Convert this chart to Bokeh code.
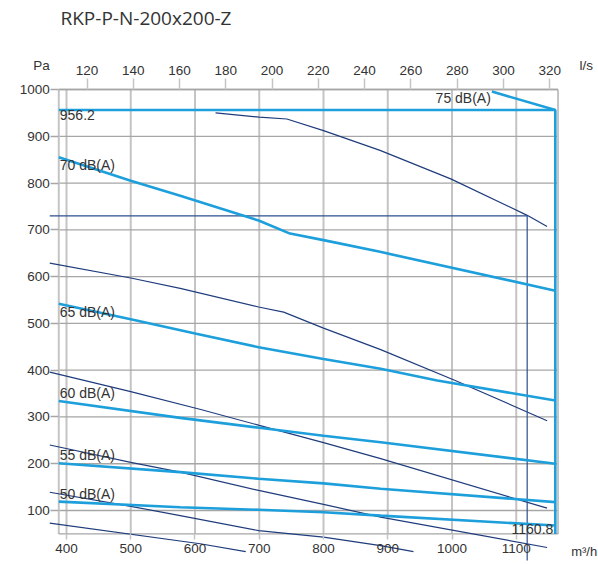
from bokeh.plotting import figure
from bokeh.models import Range1d, LinearAxis, FixedTicker, Label
from bokeh.embed import file_html
from bokeh.resources import INLINE

# ---------------- data ----------------
title_text = "RKP-P-N-200x200-Z"
x_ticks = [400, 500, 600, 700, 800, 900, 1000, 1100]          # m3/h
y_ticks = [100, 200, 300, 400, 500, 600, 700, 800, 900, 1000]  # Pa
ls_ticks = [120, 140, 160, 180, 200, 220, 240, 260, 280, 300, 320]  # l/s

# sound level lines (dB(A))
db75_x = [1062, 1160.8]
db75_y = [995.7, 956.2]
db70_x = [388, 500, 577, 699, 748, 800, 888, 1160.8]
db70_y = [855, 805, 773, 720, 692, 678, 653, 570]
db65_x = [388, 500, 602, 699, 800, 889, 977, 1160.8]
db65_y = [542, 509, 478, 449, 424, 403, 378, 335]
db60_x = [388, 577, 700, 800, 889, 1160.8]
db60_y = [334, 298, 277, 260, 246, 200]
db55_x = [388, 577, 699, 800, 889, 1160.8]
db55_y = [201, 182, 168, 158, 146.5, 118]
db50_x = [388, 577, 699, 800, 889, 1160.8]
db50_y = [119, 107, 101.5, 96.4, 89, 68]
db_labels = ["75 dB(A)", "70 dB(A)", "65 dB(A)", "60 dB(A)", "55 dB(A)", "50 dB(A)"]

# damper / pressure curves
c1_x = [632, 700, 743, 800, 888, 998, 1117, 1148]
c1_y = [950, 941, 937, 912, 870, 809, 731, 707]
c2_x = [374, 500, 577, 699, 738, 800, 889, 1005, 1148]
c2_y = [629, 597, 575, 535, 524, 490, 444, 378, 292]
c3_x = [374, 500, 609, 700, 800, 889, 1148]
c3_y = [396, 354, 316, 282, 245, 211, 105]
c4_x = [374, 500, 577, 699, 800, 889, 1148]
c4_y = [240, 203, 182, 143, 113, 86, 21]
c5_x = [374, 500, 577, 699, 800, 889, 940]
c5_y = [139, 109, 89, 57, 43, 25, 12]
c6_x = [374, 608, 679]
c6_y = [73, 29, 12]

# working point and maximum point
op_flow, op_pressure = 1117, 730
max_flow, max_pressure = 1160.8, 956.2

# ---------------- layout constants ----------------
X0, X1 = 297.3, 1228.0      # whole canvas (m3/h)
Y0, Y1 = -15.4, 1190.3      # whole canvas (Pa)
XF0, XF1 = 388, 1165        # visible chart frame
YF0, YF1 = 50, 1000
LIGHT = "#1d9fdb"
DARK = "#1f3c7c"
GRID_V = "#c4c4c4"
GRID_H = "#a6a6a6"
TXT = "#333333"
FONT = "Liberation Sans"

p = figure(width=598, height=564, x_range=Range1d(X0, X1), y_range=Range1d(Y0, Y1),
           output_backend="svg", toolbar_location=None,
           x_axis_type=None, y_axis_type=None,
           min_border_left=0, min_border_right=0, min_border_top=0, min_border_bottom=0)
p.outline_line_color = None
p.background_fill_color = "white"
p.border_fill_color = "white"
p.extra_x_ranges = {"ls": Range1d(X0 / 3.6, X1 / 3.6)}

# grid
p.segment(x0=x_ticks, y0=[YF0] * len(x_ticks), x1=x_ticks, y1=[YF1] * len(x_ticks),
          line_color=GRID_V, line_width=2)
p.segment(x0=[XF0] * len(y_ticks), y0=y_ticks, x1=[XF1] * len(y_ticks), y1=y_ticks,
          line_color=GRID_H, line_width=1.3)
# frame
p.segment(x0=[XF0, XF1], y0=[YF0, YF0], x1=[XF0, XF1], y1=[YF1, YF1], line_color=GRID_V, line_width=2)
p.segment(x0=[XF0, XF0], y0=[YF0, YF1], x1=[XF1, XF1], y1=[YF0, YF1], line_color=GRID_H, line_width=1.3)

# dark curves
for cx, cy in [(c1_x, c1_y), (c2_x, c2_y), (c3_x, c3_y), (c4_x, c4_y), (c5_x, c5_y), (c6_x, c6_y)]:
    p.line(cx, cy, line_color=DARK, line_width=1.2)
# working point lines
p.line([374, op_flow, op_flow], [op_pressure, op_pressure, -7], line_color="#2d4f8f", line_width=1.2)

# sound lines
for dx, dy in [(db75_x, db75_y), (db70_x, db70_y), (db65_x, db65_y),
               (db60_x, db60_y), (db55_x, db55_y), (db50_x, db50_y)]:
    p.line(dx, dy, line_color=LIGHT, line_width=2.6)
p.line([XF0, max_flow, max_flow], [max_pressure, max_pressure, YF0], line_color=LIGHT, line_width=2.6)

# axes
common = dict(axis_line_color=None, minor_tick_in=0, minor_tick_out=0, major_tick_in=0,
              major_tick_line_color=GRID_V, major_tick_line_width=1.5,
              major_label_text_font=FONT, major_label_text_font_size="13.5px",
              major_label_text_color=TXT)
yaxis = LinearAxis(ticker=FixedTicker(ticks=y_ticks), fixed_location=XF0,
                   major_tick_out=8, major_label_standoff=1, **common)
yaxis.major_tick_line_color = GRID_H
p.add_layout(yaxis, "left")
xaxis = LinearAxis(ticker=FixedTicker(ticks=x_ticks), fixed_location=YF0,
                   major_tick_out=6, major_label_standoff=4, **common)
p.add_layout(xaxis, "below")
taxis = LinearAxis(x_range_name="ls", ticker=FixedTicker(ticks=ls_ticks), fixed_location=YF1,
                   major_tick_out=11, major_label_standoff=4, **common)
p.add_layout(taxis, "above")

# texts
def lab(x, y, t, size="14px", align="left", base="middle", font=FONT, xo=0):
    p.add_layout(Label(x=x, y=y, text=t, text_font=font, text_font_size=size,
                       text_color=TXT, text_align=align, text_baseline=base, x_offset=xo))

lab(390.7, 1152.8, title_text, size="19px", font="Open Sans")
lab(361, 1052, "Pa", size="13.5px", align="center")
lab(1198.4, 1051, "l/s", size="13.5px", align="left")
lab(1226, 12.4, "m³/h", size="13px", align="right")

lab(db75_x[0], YF1, db_labels[0], align="right", base="top", xo=-1)
lab(XF0, db70_y[0], db_labels[1], base="top", xo=1)
lab(XF0, db65_y[0], db_labels[2], base="top", xo=1)
lab(XF0, db60_y[0], db_labels[3], base="bottom", xo=1)
lab(XF0, db55_y[0], db_labels[4], base="bottom", xo=1)
lab(XF0, db50_y[0], db_labels[5], base="bottom", xo=1)
lab(XF0, max_pressure, f"{max_pressure}", base="top", xo=1)
lab(max_flow, YF0, f"{max_flow}", align="right", base="bottom", xo=-2)

open("out.html", "w").write(file_html(p, INLINE))
